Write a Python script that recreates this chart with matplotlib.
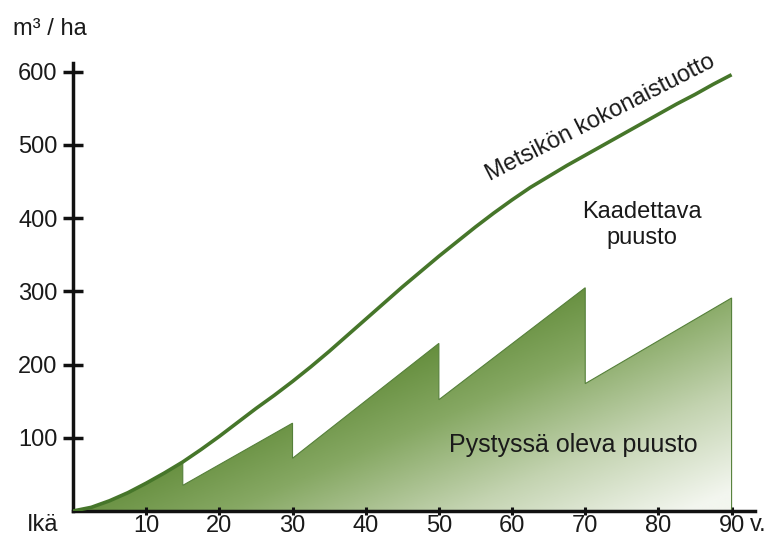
import numpy as np
import matplotlib
matplotlib.use('Agg')
import matplotlib.pyplot as plt
from matplotlib.colors import LinearSegmentedColormap
from matplotlib.patches import Polygon

plt.rcParams['font.family'] = ['Liberation Sans', 'DejaVu Sans']

# total yield of the stand (m3/ha) by age, read every 2.5 years
age = [0, 2.5, 5, 7.5, 10, 12.5, 15, 17.5, 20, 22.5, 25, 27.5, 30, 32.5, 35, 37.5,
       40, 42.5, 45, 47.5, 50, 52.5, 55, 57.5, 60, 62.5, 65, 67.5, 70, 72.5, 75,
       77.5, 80, 82.5, 85, 87.5, 90]
total = [0, 5, 14, 25, 38, 52, 67, 84, 102, 121, 140, 158, 177, 197, 218, 240,
         262, 284, 306, 327, 348, 368, 388, 407, 425, 442, 457, 472, 486, 500, 514,
         528, 542, 556, 569, 583, 596]

# standing stock: thinnings at these ages
thin_age = [15, 30, 50, 70]
before_thin = [67, 120, 229, 305]
after_thin = [35, 72, 152, 174]
end_age = 90
end_stock = 291

xticks = [10, 20, 30, 40, 50, 60, 70, 80, 90]
yticks = [100, 200, 300, 400, 500, 600]

txt = '#1a1a1a'
fs = 17

fig = plt.figure(figsize=(7.69, 5.6), dpi=100)
ax = fig.add_axes([73/769, 49/560, 682/769, 448/560])
ax.set_xlim(0, 93.2)
ax.set_ylim(0, 612)

# standing stock polygon
verts = [(a, t) for a, t in zip(age, total) if a <= thin_age[0]]
for i, a in enumerate(thin_age):
    if i > 0:
        verts.append((a, before_thin[i]))
    verts.append((a, after_thin[i]))
verts += [(end_age, end_stock), (end_age, 0), (0, 0)]

poly = Polygon(verts, closed=True, facecolor='none', edgecolor='#55803a', lw=0.8, zorder=2)
ax.add_patch(poly)

# diagonal gradient, clipped to the polygon
gx, gy = np.meshgrid(np.linspace(0, 90, 300), np.linspace(0, 320, 300))
shade = np.clip(0.95 * gx / 90 - 0.00244 * gy + 0.112, 0, 1)
cmap = LinearSegmentedColormap.from_list('grn', ['#5b8632', '#86a863', '#c3d3b0', '#f3f6ef'])
im = ax.imshow(shade, extent=[0, 90, 0, 320], origin='lower', cmap=cmap,
               vmin=0, vmax=1, aspect='auto', zorder=1, interpolation='bilinear')
im.set_clip_path(poly)

ax.plot(age, total, color='#46762a', lw=2.6, zorder=3, solid_capstyle='butt')

for s in ['top', 'right']:
    ax.spines[s].set_visible(False)
for s in ['left', 'bottom']:
    ax.spines[s].set_linewidth(2.5)
    ax.spines[s].set_color('#111111')

ax.set_xticks(xticks)
ax.set_xticklabels([str(v) for v in xticks])
ax.set_yticks(yticks)
ax.set_yticklabels([str(v) for v in yticks])
ax.tick_params(axis='y', direction='inout', length=14, width=2.5, pad=4,
               labelsize=fs, labelcolor=txt, color='#111111')
ax.tick_params(axis='x', direction='inout', length=6, width=2.2, pad=0,
               labelsize=fs, labelcolor=txt, color='#111111')

base_y = 1 - 531/560
fig.text(750/769, base_y, 'v.', ha='left', va='baseline', fontsize=fs, color=txt)
fig.text(43/769, base_y, 'Ikä', ha='center', va='baseline', fontsize=fs, color=txt)
fig.text(13/769, 1 - 35/560, 'm³ / ha', ha='left', va='baseline', fontsize=17, color=txt)

ax.text(72.4, 529.6, 'Metsikön kokonaistuotto', rotation=27, rotation_mode='anchor',
        ha='center', va='baseline', fontsize=fs, color=txt)
ax.text(77.7, 400.4, 'Kaadettava', ha='center', va='baseline', fontsize=fs, color=txt)
ax.text(77.7, 365, 'puusto', ha='center', va='baseline', fontsize=fs, color=txt)
ax.text(68.4, 81, 'Pystyssä oleva puusto', ha='center', va='baseline', fontsize=18, color=txt)

fig.savefig('out.png', dpi=100)
